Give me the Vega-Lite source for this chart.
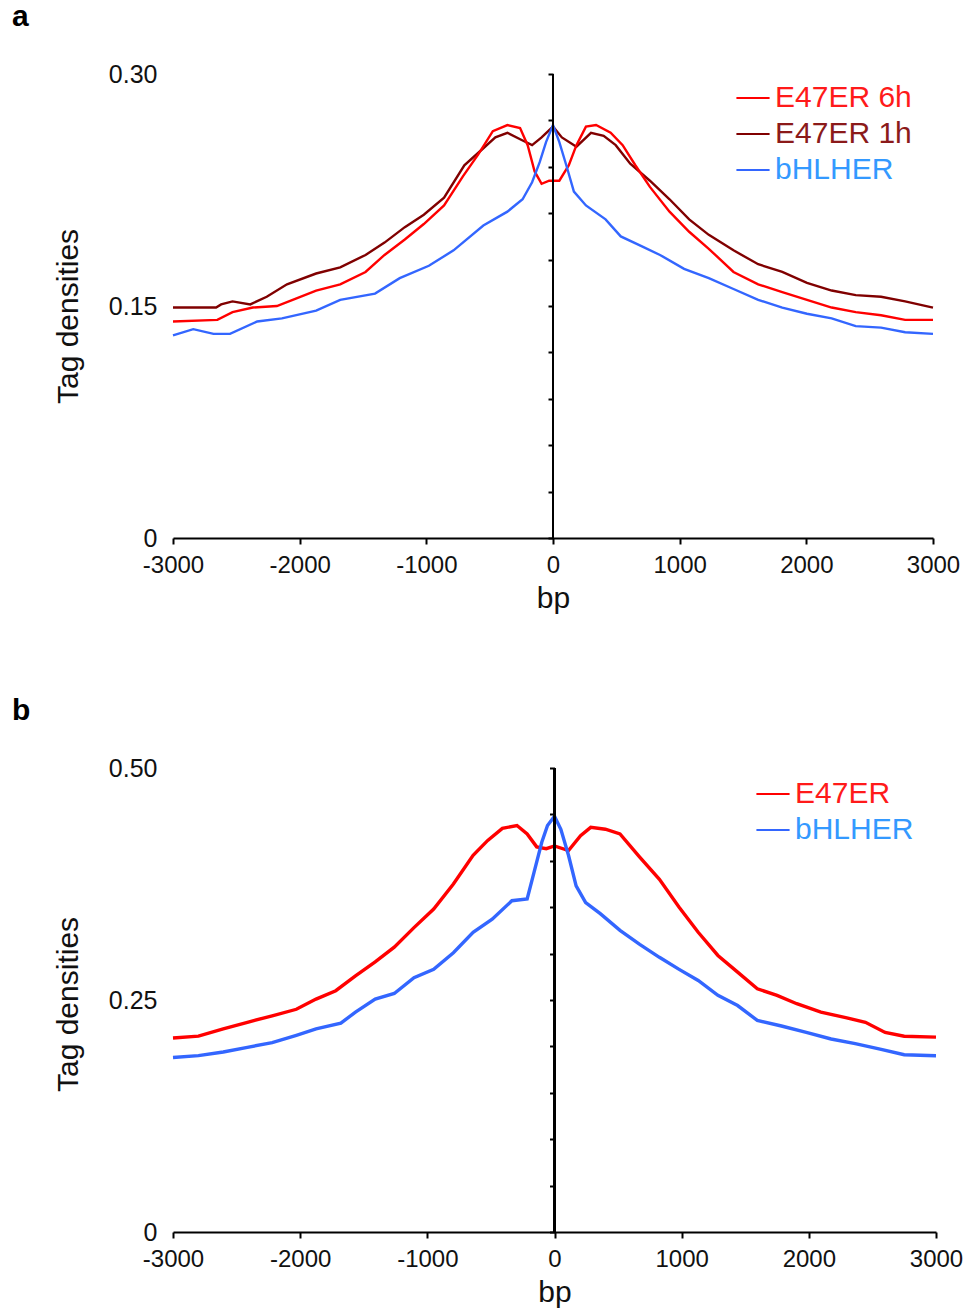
{
  "$schema": "https://vega.github.io/schema/vega-lite/v6.json",
  "background": "white",
  "padding": {"left": 12, "top": 2, "right": 0, "bottom": 2},
  "spacing": 83,
  "resolve": {"scale": {"color": "independent"}, "legend": {"color": "independent"}},
  "config": {
    "font": "Liberation Sans",
    "view": {"stroke": null},
    "axis": {"grid": false, "labelColor": "#111", "titleColor": "#111", "titleFontWeight": "normal", "domainColor": "#000", "tickColor": "#000", "labelFont": "Liberation Sans", "titleFont": "Liberation Sans"},
    "legend": {"labelFont": "Liberation Sans"}
  },
  "datasets": {
    "a": [
      {"bp": -3000, "v": 0.149, "s": "E47ER 1h"}, {"bp": -2660, "v": 0.149, "s": "E47ER 1h"}, {"bp": -2620, "v": 0.151, "s": "E47ER 1h"}, {"bp": -2530, "v": 0.153, "s": "E47ER 1h"}, {"bp": -2390, "v": 0.151, "s": "E47ER 1h"}, {"bp": -2260, "v": 0.156, "s": "E47ER 1h"}, {"bp": -2100, "v": 0.164, "s": "E47ER 1h"}, {"bp": -1870, "v": 0.171, "s": "E47ER 1h"}, {"bp": -1680, "v": 0.175, "s": "E47ER 1h"}, {"bp": -1480, "v": 0.183, "s": "E47ER 1h"}, {"bp": -1330, "v": 0.191, "s": "E47ER 1h"}, {"bp": -1170, "v": 0.201, "s": "E47ER 1h"}, {"bp": -1020, "v": 0.209, "s": "E47ER 1h"}, {"bp": -860, "v": 0.220, "s": "E47ER 1h"}, {"bp": -700, "v": 0.241, "s": "E47ER 1h"}, {"bp": -550, "v": 0.252, "s": "E47ER 1h"}, {"bp": -455, "v": 0.259, "s": "E47ER 1h"}, {"bp": -360, "v": 0.262, "s": "E47ER 1h"}, {"bp": -240, "v": 0.257, "s": "E47ER 1h"}, {"bp": -165, "v": 0.254, "s": "E47ER 1h"}, {"bp": -90, "v": 0.259, "s": "E47ER 1h"}, {"bp": 0, "v": 0.266, "s": "E47ER 1h"}, {"bp": 70, "v": 0.259, "s": "E47ER 1h"}, {"bp": 185, "v": 0.253, "s": "E47ER 1h"}, {"bp": 300, "v": 0.262, "s": "E47ER 1h"}, {"bp": 400, "v": 0.260, "s": "E47ER 1h"}, {"bp": 495, "v": 0.254, "s": "E47ER 1h"}, {"bp": 610, "v": 0.242, "s": "E47ER 1h"}, {"bp": 765, "v": 0.231, "s": "E47ER 1h"}, {"bp": 920, "v": 0.219, "s": "E47ER 1h"}, {"bp": 1075, "v": 0.206, "s": "E47ER 1h"}, {"bp": 1230, "v": 0.196, "s": "E47ER 1h"}, {"bp": 1425, "v": 0.186, "s": "E47ER 1h"}, {"bp": 1620, "v": 0.177, "s": "E47ER 1h"}, {"bp": 1810, "v": 0.172, "s": "E47ER 1h"}, {"bp": 2005, "v": 0.165, "s": "E47ER 1h"}, {"bp": 2200, "v": 0.160, "s": "E47ER 1h"}, {"bp": 2390, "v": 0.157, "s": "E47ER 1h"}, {"bp": 2590, "v": 0.156, "s": "E47ER 1h"}, {"bp": 2780, "v": 0.153, "s": "E47ER 1h"}, {"bp": 3000, "v": 0.149, "s": "E47ER 1h"},
      {"bp": -3000, "v": 0.140, "s": "E47ER 6h"}, {"bp": -2650, "v": 0.141, "s": "E47ER 6h"}, {"bp": -2530, "v": 0.146, "s": "E47ER 6h"}, {"bp": -2370, "v": 0.149, "s": "E47ER 6h"}, {"bp": -2180, "v": 0.150, "s": "E47ER 6h"}, {"bp": -2025, "v": 0.155, "s": "E47ER 6h"}, {"bp": -1870, "v": 0.160, "s": "E47ER 6h"}, {"bp": -1680, "v": 0.164, "s": "E47ER 6h"}, {"bp": -1480, "v": 0.172, "s": "E47ER 6h"}, {"bp": -1330, "v": 0.183, "s": "E47ER 6h"}, {"bp": -1170, "v": 0.193, "s": "E47ER 6h"}, {"bp": -1020, "v": 0.203, "s": "E47ER 6h"}, {"bp": -860, "v": 0.215, "s": "E47ER 6h"}, {"bp": -710, "v": 0.234, "s": "E47ER 6h"}, {"bp": -590, "v": 0.248, "s": "E47ER 6h"}, {"bp": -475, "v": 0.263, "s": "E47ER 6h"}, {"bp": -360, "v": 0.267, "s": "E47ER 6h"}, {"bp": -260, "v": 0.265, "s": "E47ER 6h"}, {"bp": -200, "v": 0.254, "s": "E47ER 6h"}, {"bp": -145, "v": 0.237, "s": "E47ER 6h"}, {"bp": -90, "v": 0.229, "s": "E47ER 6h"}, {"bp": -30, "v": 0.231, "s": "E47ER 6h"}, {"bp": 50, "v": 0.231, "s": "E47ER 6h"}, {"bp": 125, "v": 0.241, "s": "E47ER 6h"}, {"bp": 185, "v": 0.254, "s": "E47ER 6h"}, {"bp": 260, "v": 0.266, "s": "E47ER 6h"}, {"bp": 340, "v": 0.267, "s": "E47ER 6h"}, {"bp": 455, "v": 0.262, "s": "E47ER 6h"}, {"bp": 550, "v": 0.254, "s": "E47ER 6h"}, {"bp": 650, "v": 0.241, "s": "E47ER 6h"}, {"bp": 765, "v": 0.227, "s": "E47ER 6h"}, {"bp": 920, "v": 0.211, "s": "E47ER 6h"}, {"bp": 1075, "v": 0.198, "s": "E47ER 6h"}, {"bp": 1230, "v": 0.187, "s": "E47ER 6h"}, {"bp": 1425, "v": 0.172, "s": "E47ER 6h"}, {"bp": 1620, "v": 0.164, "s": "E47ER 6h"}, {"bp": 1810, "v": 0.159, "s": "E47ER 6h"}, {"bp": 2005, "v": 0.154, "s": "E47ER 6h"}, {"bp": 2200, "v": 0.149, "s": "E47ER 6h"}, {"bp": 2390, "v": 0.146, "s": "E47ER 6h"}, {"bp": 2590, "v": 0.144, "s": "E47ER 6h"}, {"bp": 2780, "v": 0.141, "s": "E47ER 6h"}, {"bp": 3000, "v": 0.141, "s": "E47ER 6h"},
      {"bp": -3000, "v": 0.131, "s": "bHLHER"}, {"bp": -2840, "v": 0.135, "s": "bHLHER"}, {"bp": -2680, "v": 0.132, "s": "bHLHER"}, {"bp": -2550, "v": 0.132, "s": "bHLHER"}, {"bp": -2335, "v": 0.140, "s": "bHLHER"}, {"bp": -2140, "v": 0.142, "s": "bHLHER"}, {"bp": -1870, "v": 0.147, "s": "bHLHER"}, {"bp": -1680, "v": 0.154, "s": "bHLHER"}, {"bp": -1405, "v": 0.158, "s": "bHLHER"}, {"bp": -1210, "v": 0.168, "s": "bHLHER"}, {"bp": -980, "v": 0.176, "s": "bHLHER"}, {"bp": -785, "v": 0.186, "s": "bHLHER"}, {"bp": -550, "v": 0.202, "s": "bHLHER"}, {"bp": -360, "v": 0.211, "s": "bHLHER"}, {"bp": -240, "v": 0.219, "s": "bHLHER"}, {"bp": -165, "v": 0.230, "s": "bHLHER"}, {"bp": -105, "v": 0.243, "s": "bHLHER"}, {"bp": -55, "v": 0.256, "s": "bHLHER"}, {"bp": 0, "v": 0.267, "s": "bHLHER"}, {"bp": 50, "v": 0.256, "s": "bHLHER"}, {"bp": 105, "v": 0.241, "s": "bHLHER"}, {"bp": 165, "v": 0.224, "s": "bHLHER"}, {"bp": 260, "v": 0.215, "s": "bHLHER"}, {"bp": 415, "v": 0.206, "s": "bHLHER"}, {"bp": 535, "v": 0.195, "s": "bHLHER"}, {"bp": 690, "v": 0.189, "s": "bHLHER"}, {"bp": 845, "v": 0.183, "s": "bHLHER"}, {"bp": 1035, "v": 0.174, "s": "bHLHER"}, {"bp": 1230, "v": 0.168, "s": "bHLHER"}, {"bp": 1425, "v": 0.161, "s": "bHLHER"}, {"bp": 1620, "v": 0.154, "s": "bHLHER"}, {"bp": 1810, "v": 0.149, "s": "bHLHER"}, {"bp": 2005, "v": 0.145, "s": "bHLHER"}, {"bp": 2200, "v": 0.142, "s": "bHLHER"}, {"bp": 2390, "v": 0.137, "s": "bHLHER"}, {"bp": 2590, "v": 0.136, "s": "bHLHER"}, {"bp": 2780, "v": 0.133, "s": "bHLHER"}, {"bp": 3000, "v": 0.132, "s": "bHLHER"}
    ],
    "b": [
      {"bp": -3000, "v": 0.209, "s": "E47ER"}, {"bp": -2800, "v": 0.211, "s": "E47ER"}, {"bp": -2605, "v": 0.219, "s": "E47ER"}, {"bp": -2415, "v": 0.226, "s": "E47ER"}, {"bp": -2220, "v": 0.233, "s": "E47ER"}, {"bp": -2030, "v": 0.240, "s": "E47ER"}, {"bp": -1875, "v": 0.251, "s": "E47ER"}, {"bp": -1720, "v": 0.260, "s": "E47ER"}, {"bp": -1565, "v": 0.276, "s": "E47ER"}, {"bp": -1410, "v": 0.291, "s": "E47ER"}, {"bp": -1260, "v": 0.307, "s": "E47ER"}, {"bp": -1105, "v": 0.328, "s": "E47ER"}, {"bp": -950, "v": 0.348, "s": "E47ER"}, {"bp": -795, "v": 0.375, "s": "E47ER"}, {"bp": -640, "v": 0.406, "s": "E47ER"}, {"bp": -525, "v": 0.422, "s": "E47ER"}, {"bp": -410, "v": 0.435, "s": "E47ER"}, {"bp": -295, "v": 0.438, "s": "E47ER"}, {"bp": -215, "v": 0.429, "s": "E47ER"}, {"bp": -140, "v": 0.415, "s": "E47ER"}, {"bp": -65, "v": 0.413, "s": "E47ER"}, {"bp": 0, "v": 0.416, "s": "E47ER"}, {"bp": 110, "v": 0.411, "s": "E47ER"}, {"bp": 205, "v": 0.427, "s": "E47ER"}, {"bp": 285, "v": 0.436, "s": "E47ER"}, {"bp": 400, "v": 0.434, "s": "E47ER"}, {"bp": 515, "v": 0.429, "s": "E47ER"}, {"bp": 670, "v": 0.404, "s": "E47ER"}, {"bp": 825, "v": 0.380, "s": "E47ER"}, {"bp": 980, "v": 0.350, "s": "E47ER"}, {"bp": 1130, "v": 0.323, "s": "E47ER"}, {"bp": 1285, "v": 0.298, "s": "E47ER"}, {"bp": 1440, "v": 0.280, "s": "E47ER"}, {"bp": 1595, "v": 0.262, "s": "E47ER"}, {"bp": 1750, "v": 0.255, "s": "E47ER"}, {"bp": 1905, "v": 0.246, "s": "E47ER"}, {"bp": 2095, "v": 0.237, "s": "E47ER"}, {"bp": 2290, "v": 0.231, "s": "E47ER"}, {"bp": 2445, "v": 0.226, "s": "E47ER"}, {"bp": 2600, "v": 0.215, "s": "E47ER"}, {"bp": 2750, "v": 0.211, "s": "E47ER"}, {"bp": 3000, "v": 0.210, "s": "E47ER"},
      {"bp": -3000, "v": 0.188, "s": "bHLHER"}, {"bp": -2800, "v": 0.190, "s": "bHLHER"}, {"bp": -2605, "v": 0.194, "s": "bHLHER"}, {"bp": -2415, "v": 0.199, "s": "bHLHER"}, {"bp": -2220, "v": 0.204, "s": "bHLHER"}, {"bp": -2030, "v": 0.212, "s": "bHLHER"}, {"bp": -1875, "v": 0.219, "s": "bHLHER"}, {"bp": -1680, "v": 0.225, "s": "bHLHER"}, {"bp": -1565, "v": 0.237, "s": "bHLHER"}, {"bp": -1410, "v": 0.251, "s": "bHLHER"}, {"bp": -1260, "v": 0.257, "s": "bHLHER"}, {"bp": -1105, "v": 0.274, "s": "bHLHER"}, {"bp": -950, "v": 0.283, "s": "bHLHER"}, {"bp": -795, "v": 0.301, "s": "bHLHER"}, {"bp": -640, "v": 0.323, "s": "bHLHER"}, {"bp": -490, "v": 0.337, "s": "bHLHER"}, {"bp": -335, "v": 0.357, "s": "bHLHER"}, {"bp": -215, "v": 0.359, "s": "bHLHER"}, {"bp": -160, "v": 0.388, "s": "bHLHER"}, {"bp": -100, "v": 0.420, "s": "bHLHER"}, {"bp": -55, "v": 0.438, "s": "bHLHER"}, {"bp": 0, "v": 0.448, "s": "bHLHER"}, {"bp": 50, "v": 0.434, "s": "bHLHER"}, {"bp": 110, "v": 0.406, "s": "bHLHER"}, {"bp": 170, "v": 0.373, "s": "bHLHER"}, {"bp": 245, "v": 0.355, "s": "bHLHER"}, {"bp": 360, "v": 0.343, "s": "bHLHER"}, {"bp": 515, "v": 0.325, "s": "bHLHER"}, {"bp": 670, "v": 0.310, "s": "bHLHER"}, {"bp": 825, "v": 0.296, "s": "bHLHER"}, {"bp": 980, "v": 0.283, "s": "bHLHER"}, {"bp": 1130, "v": 0.271, "s": "bHLHER"}, {"bp": 1285, "v": 0.255, "s": "bHLHER"}, {"bp": 1440, "v": 0.244, "s": "bHLHER"}, {"bp": 1595, "v": 0.228, "s": "bHLHER"}, {"bp": 1785, "v": 0.222, "s": "bHLHER"}, {"bp": 1980, "v": 0.215, "s": "bHLHER"}, {"bp": 2175, "v": 0.208, "s": "bHLHER"}, {"bp": 2365, "v": 0.203, "s": "bHLHER"}, {"bp": 2560, "v": 0.197, "s": "bHLHER"}, {"bp": 2750, "v": 0.191, "s": "bHLHER"}, {"bp": 3000, "v": 0.190, "s": "bHLHER"}
    ]
  },
  "vconcat": [
    {
      "width": 760,
      "height": 464,
      "title": {"text": "a", "anchor": "start", "frame": "group", "fontSize": 30, "fontWeight": "bold", "font": "Liberation Sans", "color": "#000", "dx": -161, "offset": 30},
      "data": {"name": "a"},
      "resolve": {"axis": {"y": "independent"}},
      "layer": [
        {
          "mark": {"type": "line", "strokeWidth": 2.4},
          "encoding": {
            "x": {"field": "bp", "type": "quantitative", "scale": {"domain": [-3000, 3000], "nice": false, "zero": false},
              "axis": {"values": [-3000, -2000, -1000, 0, 1000, 2000, 3000], "labelExpr": "'' + datum.value", "title": "bp", "titleFontSize": 30, "titlePadding": 6, "labelFontSize": 24, "labelPadding": 9, "tickSize": 6, "tickWidth": 2, "domainWidth": 2, "labelFlush": false, "labelOverlap": false}},
            "y": {"field": "v", "type": "quantitative", "scale": {"domain": [0, 0.3], "nice": false},
              "axis": {"orient": "left", "values": [0, 0.15, 0.3], "labelExpr": "datum.value === 0 ? '0' : format(datum.value, '.2f')", "domain": false, "ticks": false, "tickSize": 0, "labelPadding": 16, "labelFontSize": 25, "title": "Tag densities", "titleFontSize": 30, "titlePadding": 25, "titleY": 242}},
            "color": {"field": "s", "type": "nominal", "scale": {"domain": ["E47ER 6h", "E47ER 1h", "bHLHER"], "range": ["#ff0000", "#800000", "#3366ff"]},
              "legend": {"orient": "none", "legendX": 562, "legendY": 6, "title": null, "symbolType": "stroke", "symbolSize": 1100, "symbolStrokeWidth": 2, "labelFontSize": 30, "labelOffset": 4, "rowPadding": 3, "padding": 0, "labelLimit": 400,
                "encode": {"labels": {"update": {"fill": {"signal": "datum.value === 'E47ER 6h' ? '#ff1a1a' : datum.value === 'E47ER 1h' ? '#8b1a1a' : '#3399ff'"}}}}}}
          }
        },
        {
          "mark": {"type": "rule", "color": "#000", "strokeWidth": 2},
          "encoding": {
            "x": {"datum": 0, "type": "quantitative",
              "axis": {"values": [-3000, -2000, -1000, 0, 1000, 2000, 3000], "labelExpr": "'' + datum.value", "title": "bp", "titleFontSize": 30, "titlePadding": 6, "labelFontSize": 24, "labelPadding": 9, "tickSize": 6, "tickWidth": 2, "domainWidth": 2, "labelFlush": false, "labelOverlap": false}},
            "y": {"datum": 0, "type": "quantitative",
              "axis": {"orient": "left", "offset": -380, "values": [0, 0.03, 0.06, 0.09, 0.12, 0.15, 0.18, 0.21, 0.24, 0.27, 0.3], "labels": false, "domain": false, "ticks": true, "tickSize": 5, "tickWidth": 2, "title": null}},
            "y2": {"datum": 0.3}
          }
        }
      ]
    },
    {
      "width": 763,
      "height": 464,
      "title": {"text": "b", "anchor": "start", "frame": "group", "fontSize": 30, "fontWeight": "bold", "font": "Liberation Sans", "color": "#000", "dx": -161, "offset": 30},
      "data": {"name": "b"},
      "resolve": {"axis": {"y": "independent"}},
      "layer": [
        {
          "mark": {"type": "line", "strokeWidth": 3.4},
          "encoding": {
            "x": {"field": "bp", "type": "quantitative", "scale": {"domain": [-3000, 3000], "nice": false, "zero": false},
              "axis": {"values": [-3000, -2000, -1000, 0, 1000, 2000, 3000], "labelExpr": "'' + datum.value", "title": "bp", "titleFontSize": 30, "titlePadding": 6, "labelFontSize": 24, "labelPadding": 9, "tickSize": 6, "tickWidth": 2, "domainWidth": 2, "labelFlush": false, "labelOverlap": false}},
            "y": {"field": "v", "type": "quantitative", "scale": {"domain": [0, 0.5], "nice": false},
              "axis": {"orient": "left", "values": [0, 0.25, 0.5], "labelExpr": "datum.value === 0 ? '0' : format(datum.value, '.2f')", "domain": false, "ticks": false, "tickSize": 0, "labelPadding": 16, "labelFontSize": 25, "title": "Tag densities", "titleFontSize": 30, "titlePadding": 25, "titleY": 236}},
            "color": {"field": "s", "type": "nominal", "scale": {"domain": ["E47ER", "bHLHER"], "range": ["#ff0000", "#3366ff"]},
              "legend": {"orient": "none", "legendX": 582, "legendY": 8, "title": null, "symbolType": "stroke", "symbolSize": 1100, "symbolStrokeWidth": 2, "labelFontSize": 30, "labelOffset": 4, "rowPadding": 3, "padding": 0, "labelLimit": 400,
                "encode": {"labels": {"update": {"fill": {"signal": "datum.value === 'E47ER' ? '#ff1a1a' : '#3399ff'"}}}}}}
          }
        },
        {
          "mark": {"type": "rule", "color": "#000", "strokeWidth": 2},
          "encoding": {
            "x": {"datum": 0, "type": "quantitative",
              "axis": {"values": [-3000, -2000, -1000, 0, 1000, 2000, 3000], "labelExpr": "'' + datum.value", "title": "bp", "titleFontSize": 30, "titlePadding": 6, "labelFontSize": 24, "labelPadding": 9, "tickSize": 6, "tickWidth": 2, "domainWidth": 2, "labelFlush": false, "labelOverlap": false}},
            "y": {"datum": 0, "type": "quantitative",
              "axis": {"orient": "left", "offset": -381.5, "values": [0, 0.05, 0.1, 0.15, 0.2, 0.25, 0.3, 0.35, 0.4, 0.45, 0.5], "labels": false, "domain": false, "ticks": true, "tickSize": 5, "tickWidth": 2, "title": null}},
            "y2": {"datum": 0.5}
          }
        }
      ]
    }
  ]
}
